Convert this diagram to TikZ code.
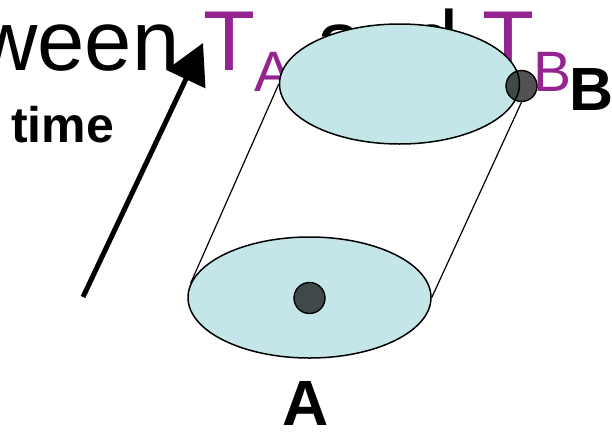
\documentclass[tikz,border=0pt]{standalone}
\usepackage{fontspec}
\setmainfont{Liberation Sans}
\usetikzlibrary{arrows.meta,positioning,shapes.geometric}
\definecolor{discblue}{RGB}{196,230,232}
\definecolor{labelpurple}{RGB}{148,36,144}
\newcommand\lowsub[1]{\raisebox{-21pt}{\fontsize{57}{57}\selectfont #1}}

\begin{document}
\begin{tikzpicture}[x=1pt,y=-1pt,
  disc/.style={ellipse,draw=black,line width=1.5pt,fill=discblue,inner sep=0pt,
    minimum width=240pt,minimum height=120pt},
  event/.style={circle,draw=black,line width=1.4pt,fill=black,fill opacity=0.68,
    inner sep=0pt,minimum size=31pt},
  world/.style={draw=black,line width=1.2pt},
  biglabel/.style={inner sep=0pt,font=\bfseries\fontsize{#1}{#1}\selectfont}
]
\useasboundingbox (0,0) rectangle (612,431);
\node[anchor=base west,inner sep=0pt,font=\fontsize{85}{85}\selectfont] (title) at (-24,70)
  {ween \textcolor{labelpurple}{T\lowsub{A}} and \textcolor{labelpurple}{T\lowsub{B}}};
\node[disc] (top) at (399.5,84) {};
\node[disc,minimum width=243pt,minimum height=121pt] (bottom) at (309.5,297.5) {};
\node[event] (evA) at (309.5,298) {};
\node[event] (evB) at (521.5,86) {};
\draw[world] (bottom.173) -- (top.west);
\draw[world] (bottom.east) -- (evB.south);
\coordinate (tail) at (83,297);
\coordinate (tip) at (203,43);
\draw[-{Triangle[length=40pt,width=42pt]},line width=5pt] (tail) -- (tip);
\node[biglabel=50,anchor=base west] (timelabel) at (11,142) {time};
\node[biglabel=64,anchor=base] (labelA) at (306,425) {A};
\node[biglabel=61,anchor=base west] (labelB) at (569,110) {B};
\end{tikzpicture}
\end{document}
